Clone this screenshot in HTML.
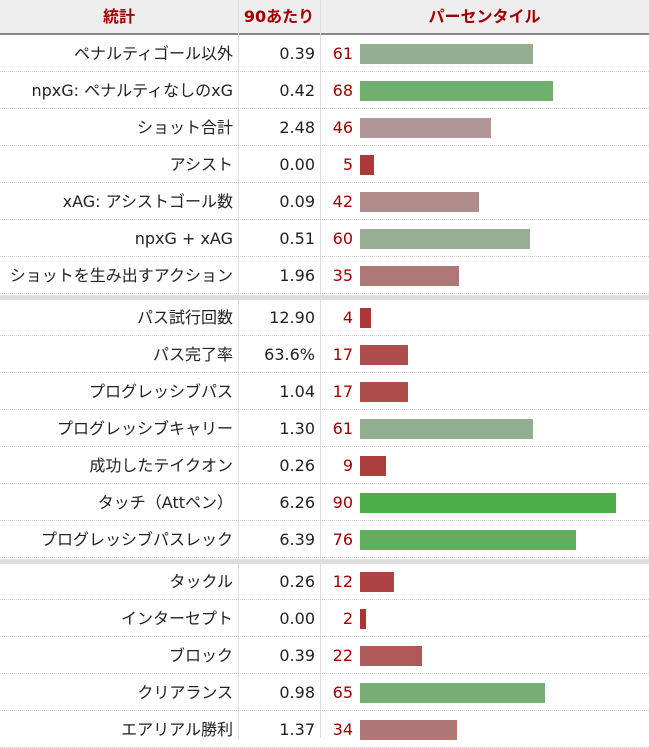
<!DOCTYPE html>
<html><head><meta charset="utf-8"><style>
body{margin:0;width:649px;height:738px;overflow:hidden;background:#fff;font-family:"DejaVu Sans","Noto Sans CJK JP",sans-serif;font-size:16px;color:#222}
#wrap{position:relative;width:649px;height:738px}
.hdr{position:absolute;left:0;top:0;width:649px;height:35px;background:#eeeeee;border-bottom:2px solid #888;box-sizing:border-box}
.h{position:absolute;top:0;height:34px;line-height:34px;color:#a00000;font-weight:bold;text-align:center}
.vl{position:absolute;top:0;width:1px;height:738px;background:#ddd}
.row{position:absolute;left:0;width:649px;border-bottom:1px dotted #ccc;box-sizing:border-box}
.sep{position:absolute;left:0;width:649px;height:5px;background:#ddd}
.lab,.val,.pct{position:absolute;height:20px;line-height:20px;white-space:nowrap}
.lab{right:416px}
.val{right:334px}
.pct{right:296px;color:#a00000}
.bar{position:absolute;left:360px;height:20px}
</style></head><body><div id="wrap">
<div class="hdr"></div>
<div class="h" style="left:0;width:238px">統計</div>
<div class="h" style="left:238px;width:82px">90あたり</div>
<div class="h" style="left:320px;width:329px">パーセンタイル</div>
<div class="vl" style="left:238px"></div>
<div class="vl" style="left:320px"></div>
</div>
<script>
const labels=["ペナルティゴール以外","npxG: ペナルティなしのxG","ショット合計","アシスト","xAG: アシストゴール数","npxG + xAG","ショットを生み出すアクション","パス試行回数","パス完了率","プログレッシブパス","プログレッシブキャリー","成功したテイクオン","タッチ（Attペン）","プログレッシブパスレック","タックル","インターセプト","ブロック","クリアランス","エアリアル勝利"];
const per90=["0.39","0.42","2.48","0.00","0.09","0.51","1.96","12.90","63.6%","1.04","1.30","0.26","6.26","6.39","0.26","0.00","0.39","0.98","1.37"];
const percentiles=[61,68,46,5,42,60,35,4,17,17,61,9,90,76,12,2,22,65,34];
const sectionStarts=[7,14];
const wrap=document.getElementById('wrap');
const x=p=>p*2.84;
function mix(a,b,t){return a.map((v,i)=>Math.round(v+(b[i]-v)*t));}
function color(p){
  const red=[172,50,50],grey=[176,162,161],green=[76,175,74];
  let c;
  if(p<50)c=mix(red,grey,Math.pow(p/50,1.3));
  else{const t=Math.min(1,(p-50)/40);c=p<65?mix([150,174,148],[139,176,138],(p-60)/5):mix([150,174,148],green,t*1.15>1?1:t*1.15);}
  return 'rgb('+c.join(',')+')';
}
let y=35;
labels.forEach((l,i)=>{
  if(sectionStarts.includes(i)){
    const s=document.createElement('div');s.className='sep';s.style.top=(y+1)+'px';
    
    
    wrap.appendChild(s);y+=5;
  }
  const h=37,cy=y+h/2;
  const r=document.createElement('div');r.className='row';r.style.top=y+'px';r.style.height=h+'px';
  
  
  wrap.appendChild(r);
  const a=document.createElement('div');a.className='lab';a.textContent=l;a.style.top=(cy-10)+'px';
  
  
  wrap.appendChild(a);
  const v=document.createElement('div');v.className='val';v.textContent=per90[i];v.style.top=(cy-10)+'px';
  
  
  wrap.appendChild(v);
  const p=document.createElement('div');p.className='pct';p.textContent=percentiles[i];p.style.top=(cy-10)+'px';
  
  
  wrap.appendChild(p);
  const b=document.createElement('div');b.className='bar';b.style.top=(cy-10)+'px';b.style.width=x(percentiles[i])+'px';b.style.background=color(percentiles[i]);
  
  
  wrap.appendChild(b);
  y+=h;
});
</script></body></html>
